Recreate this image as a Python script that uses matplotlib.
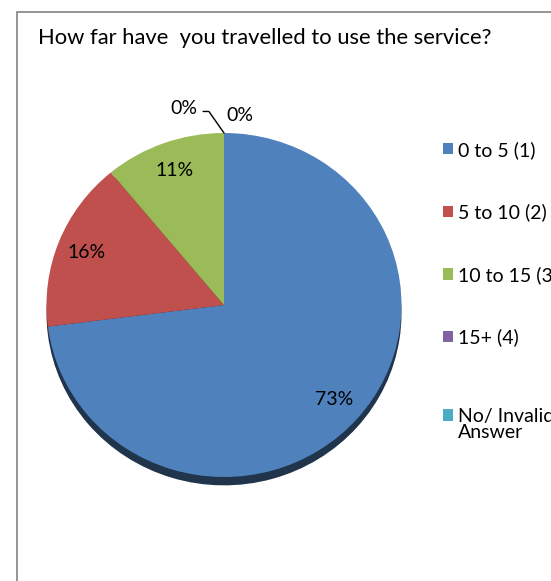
import matplotlib
matplotlib.use('Agg')
import matplotlib.pyplot as plt
from matplotlib.patches import Rectangle

plt.rcParams['font.family'] = ['Lato', 'DejaVu Sans']

# Datos del gráfico
categorias = ['0 to 5 (1)', '5 to 10 (2)', '10 to 15 (3)', '15+ (4)', 'No/ Invalid\nAnswer']
porcentajes = [73, 16, 11, 0, 0]
colores = ['#4F81BD', '#C0504D', '#9BBB59', '#8064A2', '#4BACC6']
titulo = 'How far have  you travelled to use the service?'

W, H = 551, 581
fig = plt.figure(figsize=(W / 100, H / 100), dpi=100)
fig.patch.set_facecolor('white')

# Marco del área del gráfico (se corta a la derecha y abajo)
fig.patches.append(Rectangle((16.5 / W, -0.05), 1.0, 1 - 12.5 / H + 0.05,
                             transform=fig.transFigure, fill=False,
                             edgecolor='#8C8C8C', linewidth=1.3))

fig.text(38 / W, 1 - 38 / H, titulo, fontsize=15.8, va='center', ha='left')

# Ejes del pastel, ligeramente elípticos como en Excel
ax = fig.add_axes([46.5 / W, 104 / H, 355 / W, 344 / H])
wedges, texts, autotexts = ax.pie(
    porcentajes, colors=colores, startangle=90, counterclock=False,
    autopct='%1.0f%%', pctdistance=0.83,
    wedgeprops=dict(linewidth=0),
    shadow=dict(ox=0, oy=-0.035, shade=0.6, alpha=1),
    textprops=dict(fontsize=14, color='black'))
ax.set_aspect('auto')
ax.set_xlim(-1, 1)
ax.set_ylim(-1, 1)
ax.axis('off')

# Etiquetas 0% fuera del pastel
autotexts[3].set_visible(False)
ax.annotate('0%', xy=(0, 1.0), xytext=(-0.225, 1.145), fontsize=14,
            ha='center', va='center', annotation_clip=False,
            arrowprops=dict(arrowstyle='-', color='black', lw=1,
                            connectionstyle='angle,angleA=0,angleB=-55,rad=0',
                            relpos=(1.0, 0.3), shrinkA=2, shrinkB=0))
autotexts[4].set_position((0.09, 1.10))

# Leyenda: cuatro primeras entradas y la última (dos líneas) aparte
opts = dict(loc='upper left', frameon=False, fontsize=14,
            handlelength=0.52, handleheight=0.52, handletextpad=0.28,
            labelspacing=2.3, borderaxespad=0)
fig.legend(wedges[:4], categorias[:4], bbox_to_anchor=(435 / W, 1 - 133 / H), **opts)
primera, segunda = categorias[4].split('\n')
fig.legend(wedges[4:], [primera], bbox_to_anchor=(435 / W, 1 - 400 / H), **opts)
fig.text(458 / W, 1 - 432 / H, segunda, fontsize=14, va='center', ha='left')

fig.savefig('out.png', dpi=100)
